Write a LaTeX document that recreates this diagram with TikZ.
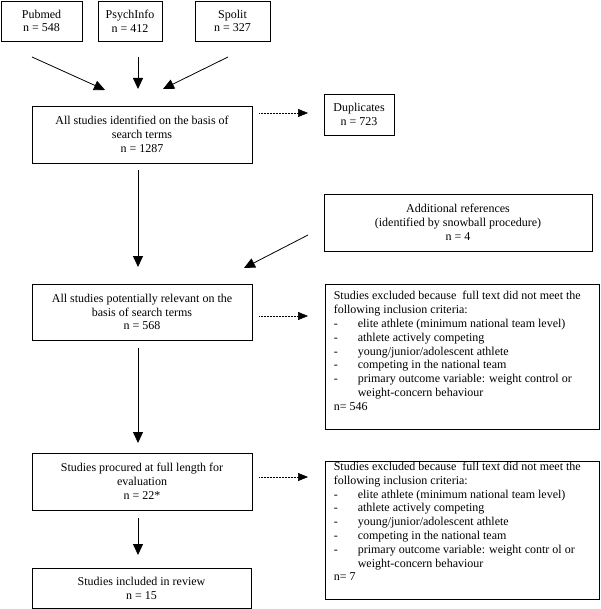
\documentclass[tikz,border=0pt]{standalone}
\usepackage{fontspec}
\setmainfont{Liberation Serif}
\usetikzlibrary{arrows.meta}
\begin{document}
\begin{tikzpicture}[x=1pt,y=-1pt,
  font=\fontsize{12}{13.8}\selectfont,
  box/.style={draw=black, line width=0.8pt, inner sep=0pt, align=center},
  listtext/.style={anchor=north west, inner sep=0pt, align=left},
  arr/.style={line width=0.8pt, -{Triangle[length=11pt,width=10pt]}},
  dotarr/.style={line width=0.5pt, dash pattern=on 0.5pt off 1pt, -{Triangle[length=10pt,width=8pt]}}
]
\useasboundingbox (0,0) rectangle (600,609);
\newcommand{\itm}{\makebox[24pt][l]{-}}
% top sources
\node[box, minimum width=81pt, minimum height=40pt] (pub) at (41.5,21) {Pubmed\\n = 548};
\node[box, minimum width=64pt, minimum height=40pt] (psy) at (130,21) {PsychInfo\\n = 412};
\node[box, minimum width=75pt, minimum height=40pt] (spo) at (232.5,21) {Spolit\\n = 327};
% main column
\node[box, minimum width=220pt, minimum height=57pt] (b1) at (142,134.5) {All studies identified on the basis of\\search terms\\n = 1287};
\node[box, minimum width=70pt, minimum height=41pt] (dup) at (359,114.5) {Duplicates\\n = 723};
\node[box, minimum width=268pt, minimum height=57pt] (add) at (458,222.5) {Additional references\\(identified by snowball procedure)\\n = 4};
\node[box, minimum width=220pt, minimum height=56pt] (b2) at (142,312) {All studies potentially relevant on the\\basis of search terms\\n = 568};
\node[box, minimum width=274pt, minimum height=145pt] (ex1) at (462,356.5) {};
\node[listtext] (ex1t) at ([xshift=9pt,yshift=-6.5pt]ex1.north west) {\strut Studies excluded because~ full text did not meet the\\
following inclusion criteria:\\
\itm elite athlete (minimum national team level)\\
\itm athlete actively competing\\
\itm young/junior/adolescent athlete\\
\itm competing in the national team\\
\itm primary outcome variable: weight control or\\
\hspace*{24pt}weight-concern behaviour\\
n= 546};
\node[box, minimum width=220pt, minimum height=57pt] (b3) at (142,481.5) {Studies procured at full length for\\evaluation\\n = 22*};
\node[box, minimum width=274pt, minimum height=138pt] (ex2) at (462,530) {};
\node[listtext] (ex2t) at ([xshift=9pt,yshift=0pt]ex2.north west) {\strut Studies excluded because~ full text did not meet the\\
following inclusion criteria:\\
\itm elite athlete (minimum national team level)\\
\itm athlete actively competing\\
\itm young/junior/adolescent athlete\\
\itm competing in the national team\\
\itm primary outcome variable: weight contr ol or\\
\hspace*{24pt}weight-concern behaviour\\
n= 7};
\node[box, minimum width=219pt, minimum height=40pt] (b4) at (141.5,588) {Studies included in review\\n = 15};
% connector end points
\coordinate (a1s) at (32,57);   \coordinate (a1e) at (105,90);
\coordinate (a2s) at (138,57);  \coordinate (a2e) at (138,89);
\coordinate (a3s) at (228,57);  \coordinate (a3e) at (163,89);
\coordinate (d1s) at (259,113); \coordinate (d1e) at (308,113);
\coordinate (v1s) at (138,170); \coordinate (v1e) at (138,267);
\coordinate (a4s) at (308,235); \coordinate (a4e) at (244,268);
\coordinate (d2s) at (259,316); \coordinate (d2e) at (308,316);
\coordinate (v2s) at (138,348); \coordinate (v2e) at (138,443);
\coordinate (d3s) at (259,477); \coordinate (d3e) at (308,477);
\coordinate (v3s) at (138,518); \coordinate (v3e) at (138,555);
\draw[arr] (a1s) -- (a1e);
\draw[arr] (a2s) -- (a2e);
\draw[arr] (a3s) -- (a3e);
\draw[dotarr] (d1s) -- (d1e);
\draw[arr] (v1s) -- (v1e);
\draw[arr] (a4s) -- (a4e);
\draw[dotarr] (d2s) -- (d2e);
\draw[arr] (v2s) -- (v2e);
\draw[dotarr] (d3s) -- (d3e);
\draw[arr] (v3s) -- (v3e);
\end{tikzpicture}
\end{document}
